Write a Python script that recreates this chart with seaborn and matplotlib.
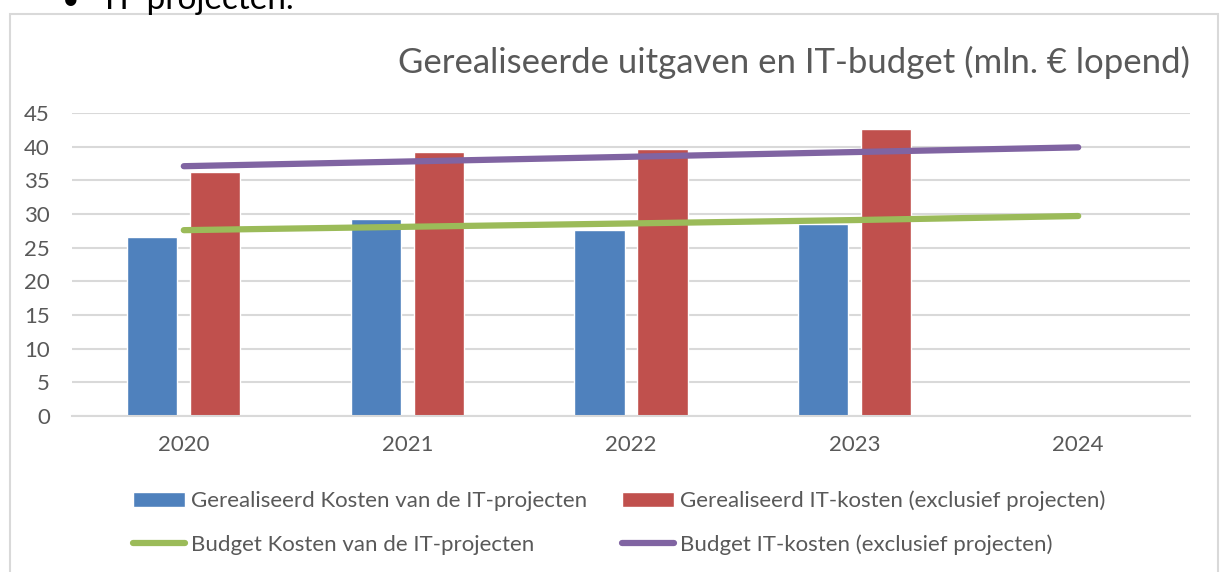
import numpy as np
import pandas as pd
import matplotlib
matplotlib.use("Agg")
import matplotlib.pyplot as plt
import seaborn as sns
from matplotlib.patches import Rectangle, Patch
from matplotlib.lines import Line2D

years = ["2020", "2021", "2022", "2023", "2024"]
real_projects = [26.6, 29.3, 27.6, 28.5]
real_it = [36.3, 39.2, 39.6, 42.6]
budget_projects = [27.6, 28.1, 28.6, 29.1, 29.7]
budget_it = [37.1, 37.8, 38.5, 39.2, 39.9]

lbl_rp = "Gerealiseerd Kosten van de IT-projecten"
lbl_ri = "Gerealiseerd IT-kosten (exclusief projecten)"
lbl_bp = "Budget Kosten van de IT-projecten"
lbl_bi = "Budget IT-kosten (exclusief projecten)"

blue, red, green, purple = "#4F81BD", "#C0504D", "#9BBB59", "#8064A2"
grid_c = "#D9D9D9"
text_c = "#595959"

bars = pd.DataFrame({
    "year": years[:4] * 2,
    "serie": [lbl_rp] * 4 + [lbl_ri] * 4,
    "value": real_projects + real_it,
})

sns.set_style("white")
plt.rcParams["font.family"] = ["Lato", "DejaVu Sans"]

fig = plt.figure(figsize=(12.24, 5.72), dpi=100)
ax = fig.add_axes([72 / 1224, 156 / 572, 1118 / 1224, 303 / 572])

sns.barplot(data=bars, x="year", y="value", hue="serie", order=years,
            hue_order=[lbl_rp, lbl_ri], palette=[blue, red],
            width=0.564, gap=0.206, ax=ax, legend=False, saturation=1)

idx = np.arange(len(years))
sns.lineplot(x=idx, y=budget_projects, color=green, lw=4.5, ax=ax,
             solid_capstyle="round")
sns.lineplot(x=idx, y=budget_it, color=purple, lw=4.5, ax=ax,
             solid_capstyle="round")

ax.set_xlim(-0.5, 4.5)
ax.set_ylim(0, 45)
ax.set_yticks(range(0, 46, 5))
ax.yaxis.grid(True, color=grid_c, lw=1.5)
ax.set_axisbelow(True)
for s in ["top", "right", "left"]:
    ax.spines[s].set_visible(False)
ax.spines["bottom"].set_color(grid_c)
ax.spines["bottom"].set_linewidth(1.5)
ax.tick_params(axis="y", length=0, pad=16, labelsize=16, labelcolor=text_c)
ax.tick_params(axis="x", length=0, pad=14, labelsize=16, labelcolor=text_c)
ax.set_xlabel("")
ax.set_ylabel("")

fig.text(1190 / 1224, 1 - 62 / 572,
         "Gerealiseerde uitgaven en IT-budget (mln. \u20ac lopend)",
         ha="right", va="center", fontsize=25, color=text_c)

# chart frame
fig.patches.append(Rectangle((9.5 / 1224, -0.05), 1208.5 / 1224, 1.05 - 14 / 572,
                             transform=fig.transFigure, fill=False,
                             edgecolor=grid_c, lw=1.5))

# tail of the text above the chart
fig.text(62 / 1224, 1 - 9 / 572, "\u2022", ha="left", va="baseline",
         fontsize=22, color="black")
fig.text(105 / 1224, 1 - 9 / 572, "IT-projecten.", ha="left", va="baseline",
         fontsize=24, color="black")

col1 = [
    Patch(facecolor=blue, label=lbl_rp),
    Line2D([], [], color=green, lw=4.5, solid_capstyle="round", label=lbl_bp),
]
col2 = [
    Patch(facecolor=red, label=lbl_ri),
    Line2D([], [], color=purple, lw=4.5, solid_capstyle="round", label=lbl_bi),
]
for hs, x0 in [(col1, 133), (col2, 622)]:
    fig.legend(handles=hs, loc="center left",
               bbox_to_anchor=(x0 / 1224, 1 - 523 / 572), frameon=False,
               fontsize=16, labelcolor=text_c, handlelength=2.35,
               handleheight=0.72, handletextpad=0.27, borderpad=0,
               borderaxespad=0, labelspacing=1.05)

fig.savefig("out.png", dpi=100)
